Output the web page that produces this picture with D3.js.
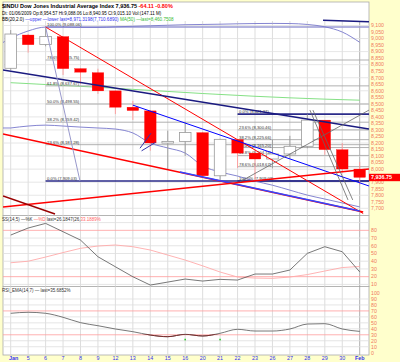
<!DOCTYPE html>
<html>
<head>
<meta charset="utf-8">
<script src="https://cdn.jsdelivr.net/npm/d3@7"></script>
<style>
  body { margin: 0; background: #ffffcc; }
  svg { display: block; font-family: "Liberation Sans", Arial, sans-serif; }
</style>
</head>
<body>
<div id="chart"></div>
<script>
// trading days
const dayLabels = ["Jan","5","6","7","8","9","12","13","14","15","16","20","21","22","23","26","27","28","29","30","Feb"];

// OHLC
const openP  = [8772.25,9027.13,8954.57,9015.10,8769.94,8738.80,8599.26,8474.39,8446.01,8199.37,8212.49,8279.63,7949.17,8226.75,8122.80,8077.56,8116.03,8174.73,8375.45,8149.01,8000.62];
const highP  = [9065.28,9034.37,9088.06,9015.10,8770.02,8769.00,8602.60,8522.37,8446.01,8294.86,8360.00,8281.22,8232.59,8228.10,8150.00,8225.00,8255.00,8420.00,8375.45,8200.00,8055.00];
const lowP   = [8760.78,8892.36,8940.95,8721.39,8651.19,8576.20,8421.71,8376.87,8140.71,7995.86,8101.13,7939.93,7917.34,8009.12,7909.03,8006.00,8080.00,8160.00,8110.00,7980.00,7880.00];
const closeP = [9034.69,8952.89,9015.10,8769.70,8742.46,8599.18,8473.97,8448.56,8200.14,8212.49,8281.22,7949.09,8228.10,8122.80,8077.56,8116.03,8174.73,8375.45,8149.01,8000.86,7936.75];

// overlays
const bbUpper = [9004,9058,9088,9088,9085,9085,9090,9094,9098,9102,9106,9108,9110,9113,9115,9116,9115,9108,9090,9050,8971.31];
const bbLower = [8315,8330,8337,8330,8322,8315,8307,8277,8200,8162,8123,8024,7978,7947,7908,7877,7839,7801,7771,7741,7710.69];
const ma50    = [8662,8655,8648,8641,8634,8627,8619,8611,8603,8595,8587,8579,8572,8565,8558,8552,8546,8541,8536,8532,8528];

// indicators
const stochK = [73.9,83,89,78.2,67.4,45.8,32.8,19.9,9.1,13,16.9,14.3,16.5,15.6,23.4,23.4,28.6,50.2,58.8,52.3,26.18];
const stochD = [38,40,45.4,51.2,56.7,59.7,61,58.8,54.5,48,41.5,34,26,19.5,18.2,17.8,19.5,22.7,27.3,31.8,33.19];
const rsiVals = [66,67.7,66,59.3,50.3,45.2,39.7,35.2,29.6,26.8,30.8,28,32.5,39.2,36.3,36.3,39.7,48,48.6,39.7,35.69];

// fibonacci retracements
const fibRatios = [0, 23.6, 38.2, 50, 61.8, 78.6, 100];
const fibA = { start: 2, top: 9088.06, bottom: 7909.03, topPct: 100 };
const fibB = { start: 13, top: 8421.37, bottom: 7909.03, topPct: 0 };

// trend lines as [day, price] pairs
const trendLines = [
  { pts: [[2, 9088.06], [20.2, 7660]], color: "#ff0000", w: 1 },
  { pts: [[-0.44, 8759], [20.53, 8307]], color: "#1a1a80", w: 1.5 },
  { pts: [[7, 8490], [20.53, 7871]], color: "#0000ff", w: 1 },
  { pts: [[-0.44, 8269], [20.2, 7672]], color: "#ff0000", w: 1.5 },
  { pts: [[9.7, 7978], [20.0, 7679]], color: "#3344ff", w: 1.5 },
  { pts: [[-0.44, 7710], [20.53, 8001]], color: "#ff0000", w: 1.5 },
  { pts: [[-0.44, 7794], [2.54, 7656]], color: "#990000", w: 1.5 },
  { pts: [[2, 9088.06], [3.97, 7909.03]], color: "#9999cc", w: 1 },
  { pts: [[17.15, 8452], [19.33, 7764]], color: "#666666", w: 0.8 },
  { pts: [[17.32, 8452], [19.6, 7764]], color: "#666666", w: 0.8 },
  { pts: [[13.14, 7903], [20.53, 8452]], color: "#666666", w: 0.8 },
  { pts: [[17.9, 9141], [20.53, 9129]], color: "#1a1a80", w: 1.5 },
  { pts: [[7.41, 8160], [8.04, 8275]], color: "#3333aa", w: 1 },
  { pts: [[7.5, 8140], [8.3, 8205]], color: "#3333aa", w: 1 }
];

const priceTicks = d3.range(7700, 9101, 50);
const oscTicks = d3.range(10, 81, 10);
const rsiTicks = d3.range(0, 101, 10);

const W = 400, H = 362;
const left = 3, right = 369;
const main = { top: 2, bottom: 215.5, gridTop: 21 };
const stoch = { top: 215.5, bottom: 286.5 };
const rsiP = { top: 286.5, bottom: 355 };

const svg = d3.select("#chart").append("svg")
  .attr("width", W).attr("height", H);

svg.append("rect").attr("width", W).attr("height", H).attr("fill", "#ffffcc");

const x = d3.scaleLinear().domain([0, 20]).range([10.7, 359.7]);
const y = d3.scaleLinear().domain([7700, 9100]).range([208.3, 25.5]);
const ys = d3.scaleLinear().domain([0, 100]).range([292.1, 214.9]);
const yr = d3.scaleLinear().domain([0, 100]).range([352.7, 293]);

// panel backgrounds
[[main.top, main.bottom], [stoch.top, stoch.bottom], [rsiP.top, rsiP.bottom]].forEach(p => {
  svg.append("rect").attr("x", left).attr("y", p[0]).attr("width", right - left).attr("height", p[1] - p[0])
    .attr("fill", "#fff").attr("stroke", "#aaa").attr("stroke-width", 0.8);
});

// clip paths
const defs = svg.append("defs");
function clip(id, x0, y0, y1) {
  defs.append("clipPath").attr("id", id).append("rect")
    .attr("x", x0).attr("y", y0).attr("width", right - x0).attr("height", y1 - y0);
  return "url(#" + id + ")";
}
const clipMain = clip("cm", left, 19, main.bottom);
const clipSt = clip("cs", left, stoch.top, stoch.bottom);
const clipRsi = clip("cr", left, rsiP.top, rsiP.bottom);
const clipRsiLow = clip("crl", left, yr(31), rsiP.bottom);

const days = d3.range(dayLabels.length);

// vertical grid
function vgrid(y0, y1) {
  svg.append("g").selectAll("line").data(days).enter().append("line")
    .attr("x1", d => x(d)).attr("x2", d => x(d)).attr("y1", y0).attr("y2", y1)
    .attr("stroke", d => d === 20 ? "#999" : "#d4d4d4").attr("stroke-width", 0.8);
}
vgrid(main.gridTop, main.bottom);
vgrid(stoch.top, stoch.bottom);
vgrid(rsiP.top, rsiP.bottom);

// horizontal grids
const gm = svg.append("g").attr("clip-path", clipMain);
gm.selectAll("line").data(priceTicks.filter(d => d % 100 === 0)).enter().append("line")
  .attr("x1", left).attr("x2", right).attr("y1", d => y(d)).attr("y2", d => y(d))
  .attr("stroke", "#e0e0e0").attr("stroke-width", 0.8);

svg.append("g").selectAll("line").data(d3.range(10, 91, 10)).enter().append("line")
  .attr("x1", left).attr("x2", right).attr("y1", d => ys(d)).attr("y2", d => ys(d))
  .attr("stroke", d => (d === 80 || d === 20) ? "#ff9c9c" : "#dedede").attr("stroke-width", 0.8);

svg.append("g").selectAll("line").data(d3.range(10, 91, 10)).enter().append("line")
  .attr("x1", left).attr("x2", right).attr("y1", d => yr(d)).attr("y2", d => yr(d))
  .attr("stroke", d => (d === 70 || d === 30) ? "#ff9c9c" : "#dedede").attr("stroke-width", 0.8);

// fibonacci lines
const fmt = d3.format(",.2f");
function drawFib(f, edgeTopColor) {
  const g = svg.append("g").attr("clip-path", clipMain);
  const range = f.top - f.bottom;
  fibRatios.forEach(r => {
    const price = f.topPct === 100 ? f.bottom + range * r / 100 : f.top - range * r / 100;
    const edge = (r === 0 || r === 100);
    const isTop = Math.abs(price - f.top) < 0.01;
    g.append("line").attr("x1", x(f.start)).attr("x2", right)
      .attr("y1", y(price)).attr("y2", y(price))
      .attr("stroke", edge ? (isTop ? edgeTopColor : "#2b2b8a") : "#a8a8a8")
      .attr("stroke-width", edge ? 1.6 : 0.9);
    g.append("text").attr("x", x(f.start) + 1.5).attr("y", y(price) - 1)
      .attr("font-size", 4.2).attr("fill", "#333")
      .text(d3.format(".1f")(r) + "%  (" + fmt(price) + ")");
  });
}
drawFib(fibA, "#9a9ad4");
drawFib(fibB, "#2b2b8a");

// overlays: MA and Bollinger
const curve = sy => d3.line().x((d, i) => x(i)).y(d => sy(d)).curve(d3.curveMonotoneX);
gm.append("path").attr("d", curve(y)(ma50)).attr("fill", "none").attr("stroke", "#77dd77").attr("stroke-width", 0.9);
const bbG = svg.append("g").attr("clip-path", clipMain);
bbG.append("path").attr("d", curve(y)(bbUpper))
  .attr("fill", "none").attr("stroke", "#7777cc").attr("stroke-width", 0.9);
bbG.append("line").attr("x1", left).attr("y1", y(8970)).attr("x2", x(0)).attr("y2", y(bbUpper[0]))
  .attr("stroke", "#7777cc").attr("stroke-width", 0.9);
bbG.append("path").attr("d", curve(y)(bbLower)).attr("fill", "none").attr("stroke", "#7777cc").attr("stroke-width", 0.9);
bbG.append("line").attr("x1", left).attr("y1", y(bbLower[0])).attr("x2", x(0)).attr("y2", y(bbLower[0]))
  .attr("stroke", "#7777cc").attr("stroke-width", 0.9);

// candles
const cg = svg.append("g").attr("clip-path", clipMain);
const candleW = 11.6;
days.forEach(i => {
  const up = closeP[i] >= openP[i];
  cg.append("line").attr("x1", x(i)).attr("x2", x(i))
    .attr("y1", y(highP[i])).attr("y2", y(lowP[i]))
    .attr("stroke", up ? "#999" : "#ff9a9a").attr("stroke-width", 0.9);
  const top = y(Math.max(openP[i], closeP[i]));
  const bot = y(Math.min(openP[i], closeP[i]));
  cg.append("rect").attr("x", x(i) - candleW / 2).attr("y", top)
    .attr("width", candleW).attr("height", Math.max(bot - top, 1))
    .attr("fill", up ? "#fff" : "#ff0000")
    .attr("stroke", up ? "#999" : "#ff0000").attr("stroke-width", up ? 0.8 : 0.3);
});

// trend lines
const tg = svg.append("g").attr("clip-path", clipMain);
trendLines.forEach(t => {
  tg.append("line")
    .attr("x1", x(t.pts[0][0])).attr("y1", y(t.pts[0][1]))
    .attr("x2", x(t.pts[1][0])).attr("y2", y(t.pts[1][1]))
    .attr("stroke", t.color).attr("stroke-width", t.w);
});

// stochastic
const sg = svg.append("g").attr("clip-path", clipSt);
sg.append("path").attr("d", d3.line().x((d, i) => x(i)).y(d => ys(d))(stochD))
  .attr("fill", "none").attr("stroke", "#ffaaaa").attr("stroke-width", 0.9);
sg.append("path").attr("d", d3.line().x((d, i) => x(i)).y(d => ys(d))(stochK))
  .attr("fill", "none").attr("stroke", "#555").attr("stroke-width", 0.8);

// rsi
const rg = svg.append("g").attr("clip-path", clipRsi);
rg.append("path").attr("d", curve(yr)(rsiVals))
  .attr("fill", "none").attr("stroke", "#555").attr("stroke-width", 0.8);
svg.append("g").attr("clip-path", clipRsiLow).append("path").attr("d", curve(yr)(rsiVals))
  .attr("fill", "none").attr("stroke", "#7a2a2a").attr("stroke-width", 1);
[10, 12].forEach(i => {
  rg.append("rect").attr("x", x(i) - 0.8).attr("y", yr(22) - 0.8).attr("width", 1.6).attr("height", 1.6).attr("fill", "#33cc33");
});

// right axis labels (ticks hidden behind the last-price tag are skipped)
const axisColor = "#f07a60";
const last = closeP[closeP.length - 1];
svg.append("g").selectAll("text").data(priceTicks.filter(d => Math.abs(y(d) - y(last)) > 4.5)).enter().append("text")
  .attr("x", 371).attr("y", d => y(d) + 1.8).attr("font-size", 5.2).attr("fill", axisColor)
  .text(d => d3.format(",")(d));
svg.append("g").selectAll("text").data(oscTicks).enter().append("text")
  .attr("x", 371).attr("y", d => ys(d) + 1.8).attr("font-size", 5.2).attr("fill", axisColor)
  .text(d => d);
svg.append("g").selectAll("text").data(rsiTicks).enter().append("text")
  .attr("x", 371).attr("y", d => yr(d) + 1.8).attr("font-size", 5.2).attr("fill", axisColor)
  .text(d => d);

// last price tag
svg.append("rect").attr("x", 369).attr("y", y(last) - 3.6).attr("width", 31).attr("height", 7.4).attr("fill", "#ff0000");
svg.append("text").attr("x", 371).attr("y", y(last) + 1.9).attr("font-size", 5.4).attr("font-weight", "bold")
  .attr("fill", "#fff").text(d3.format(",.2f")(last));

// x axis labels
svg.append("g").selectAll("text").data(days).enter().append("text")
  .attr("x", d => x(d) + (d === 0 ? 3 : 0)).attr("y", 359.8).attr("text-anchor", "middle")
  .attr("font-size", 5.4).attr("fill", "#3333ee")
  .attr("font-weight", d => (d === 0 || d === 20) ? "bold" : "normal")
  .text(d => dayLabels[d]);

// header / legend lines built from coloured parts
function legend(xp, yp, size, parts, bold) {
  const t = svg.append("text").attr("x", xp).attr("y", yp).attr("font-size", size);
  if (bold) t.attr("font-weight", "bold");
  parts.forEach(p => {
    t.append("tspan").attr("fill", p[1]).text(p[0]);
  });
  return t;
}
legend(2, 8, 5.5, [
  ["$INDU Dow Jones Industrial Average Index  ", "#000"],
  ["7,936.75  ", "#000"],
  ["-64.11  ", "#ff0000"],
  ["-0.80%", "#ff0000"]
], true);
legend(2, 14.5, 4.5, [["Dt: 01/06/2009 Op:8,954.57 Hi:9,088.06 Lo:8,940.95 Cl:9,015.10 Vol:(147.11 M)", "#000"]]);
legend(2, 21, 4.6, [
  ["BB(20,2.0) ", "#000"],
  ["\u2014upper \u2014lower last=8,971.3198(7,710.6890) ", "#3333ee"],
  ["MA(50) \u2014last=8,460.7508", "#33bb33"]
]);
legend(2, 221, 4.5, [
  ["SS(14,5) \u2014%K ", "#333"],
  ["\u2014%D ", "#ff6666"],
  ["last=26.1847(26,", "#333"],
  ["33.1889%", "#ff6666"]
]);
legend(2, 291.5, 4.5, [["RSI_EMA(14,7) \u2014 last=35.6852%", "#333"]]);
</script>
</body>
</html>
